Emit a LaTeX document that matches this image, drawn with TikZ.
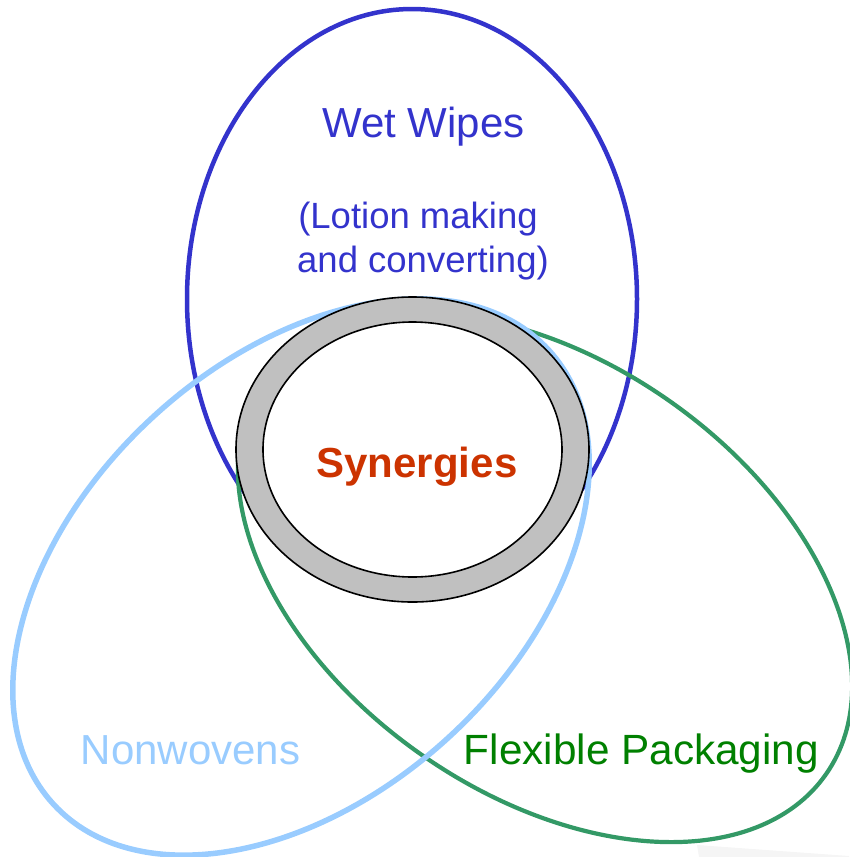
\documentclass[tikz,border=0pt]{standalone}
\usepackage{fontspec}
\setmainfont{Liberation Sans}
\definecolor{wwblue}{HTML}{3333CC}
\definecolor{nwblue}{HTML}{99CCFF}
\definecolor{fpline}{HTML}{339966}
\definecolor{fptext}{HTML}{008000}
\definecolor{synred}{HTML}{CC3300}
\definecolor{ringgray}{HTML}{C0C0C0}
\tikzset{
  lbl/.style={inner sep=0pt, outer sep=0pt, anchor=base},
}
\begin{document}
\begin{tikzpicture}[x=1pt,y=-1pt]
\useasboundingbox (0,0) rectangle (849,857);
% faint shadow artifact
\fill[black!4] (697,845) -- (849,856) -- (849,857) -- (699,857) -- cycle;
% Wet Wipes
\draw[wwblue, line width=4.5pt] (412,299) ellipse [x radius=225pt, y radius=290pt];
% Flexible Packaging
\draw[fpline, line width=4.2pt, rotate around={-35:(545,577.5)}] (545,577.5) ellipse [x radius=343pt, y radius=216pt];
% Nonwovens
\draw[nwblue, line width=5.5pt, rotate around={42.5:(301,577)}] (301,577) ellipse [x radius=336pt, y radius=218pt];
% Synergies ring
\draw[black, line width=1.6pt, fill=ringgray] (412.5,449.5) ellipse [x radius=176.5pt, y radius=152.5pt];
\draw[black, line width=1.6pt, fill=white] (412.5,449.5) ellipse [x radius=149.5pt, y radius=127.5pt];
% texts
\node[lbl, text=wwblue, font=\fontsize{42}{48}\selectfont] (ww) at (423.5,137) {Wet Wipes};
\node[lbl, text=wwblue, font=\fontsize{36.5}{44}\selectfont] (lm) at (418,228) {(Lotion making};
\node[lbl, text=wwblue, font=\fontsize{36.5}{44}\selectfont] (ac) at (423,272) {and converting)};
\node[lbl, text=synred, font=\fontsize{42}{48}\selectfont\bfseries] (syn) at (417,477) {Synergies};
\node[lbl, text=nwblue, font=\fontsize{42}{48}\selectfont] (nw) at (190.5,764) {Nonwovens};
\node[lbl, text=fptext, font=\fontsize{42.3}{48}\selectfont] (fp) at (641.5,764) {Flexible Packaging};
\end{tikzpicture}
\end{document}
